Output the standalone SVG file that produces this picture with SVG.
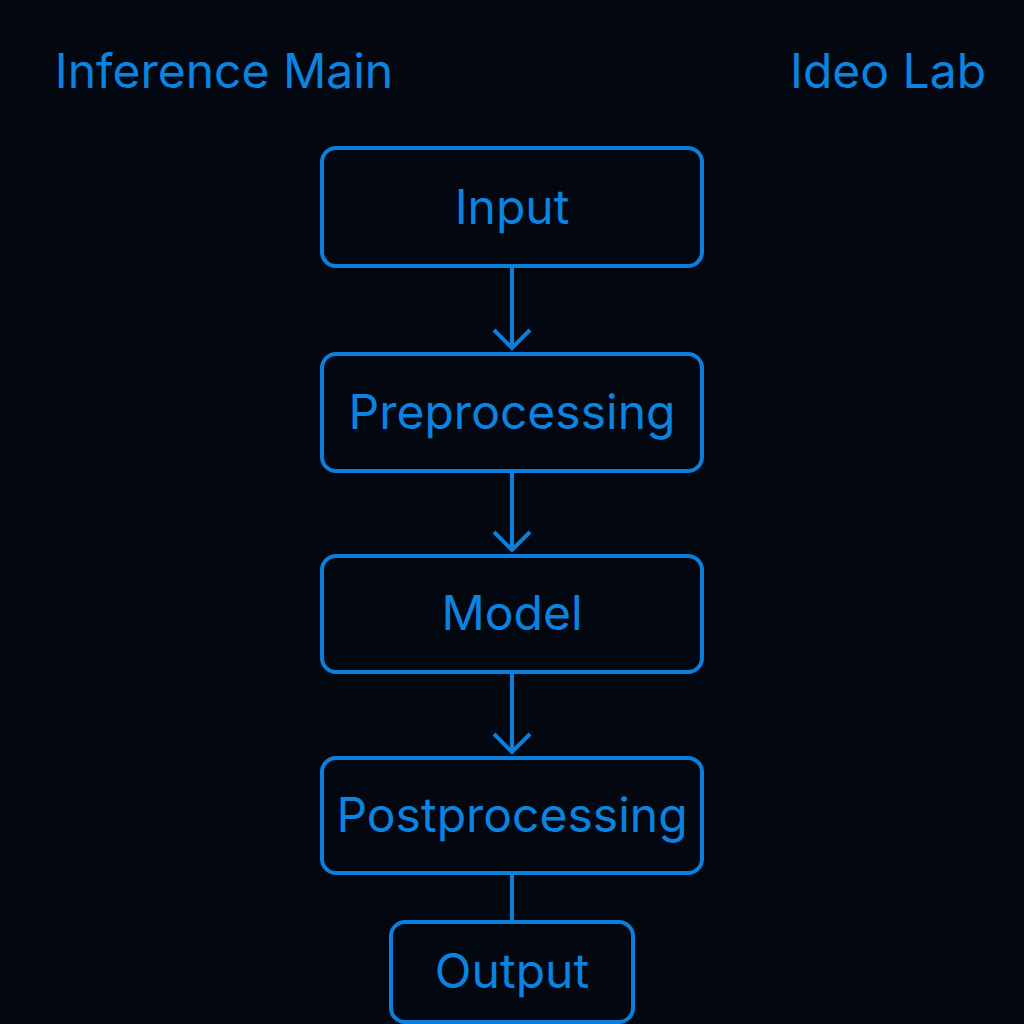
<svg xmlns="http://www.w3.org/2000/svg" width="1024" height="1024" viewBox="0 0 1024 1024">
<style>
.n{fill:none;stroke:#0a7fdc;stroke-width:4}
.t{fill:#0a84e0;font-family:Inter,"Noto Sans",sans-serif;font-size:48px;text-anchor:middle}
.c{stroke:#0a7fdc;stroke-width:4;fill:none}
</style>
<rect width="1024" height="1024" fill="#03070f"/>
<text x="224" y="88" class="t" font-size="46">Inference Main</text>
<text x="888" y="88" class="t" font-size="46">Ideo Lab</text>
<g id="connectors">
<path class="c" d="M512 266V348M494 330L512 348L530 330"/>
<path class="c" d="M512 471V550M494 532L512 550L530 532"/>
<path class="c" d="M512 672V752M494 734L512 752L530 734"/>
<path class="c" d="M512 873V922"/>
</g>
<g id="input"><rect class="n" x="322" y="148" width="380" height="118" rx="14"/><text class="t" x="512" y="224">Input</text></g>
<g id="pre"><rect class="n" x="322" y="354" width="380" height="117" rx="14"/><text class="t" x="512" y="429">Preprocessing</text></g>
<g id="model"><rect class="n" x="322" y="556" width="380" height="116" rx="14"/><text class="t" x="512" y="630">Model</text></g>
<g id="post"><rect class="n" x="322" y="758" width="380" height="115" rx="14"/><text class="t" x="512" y="832">Postprocessing</text></g>
<g id="output"><rect class="n" x="391" y="922" width="242" height="100" rx="14"/><text class="t" x="512" y="988">Output</text></g>
</svg>
